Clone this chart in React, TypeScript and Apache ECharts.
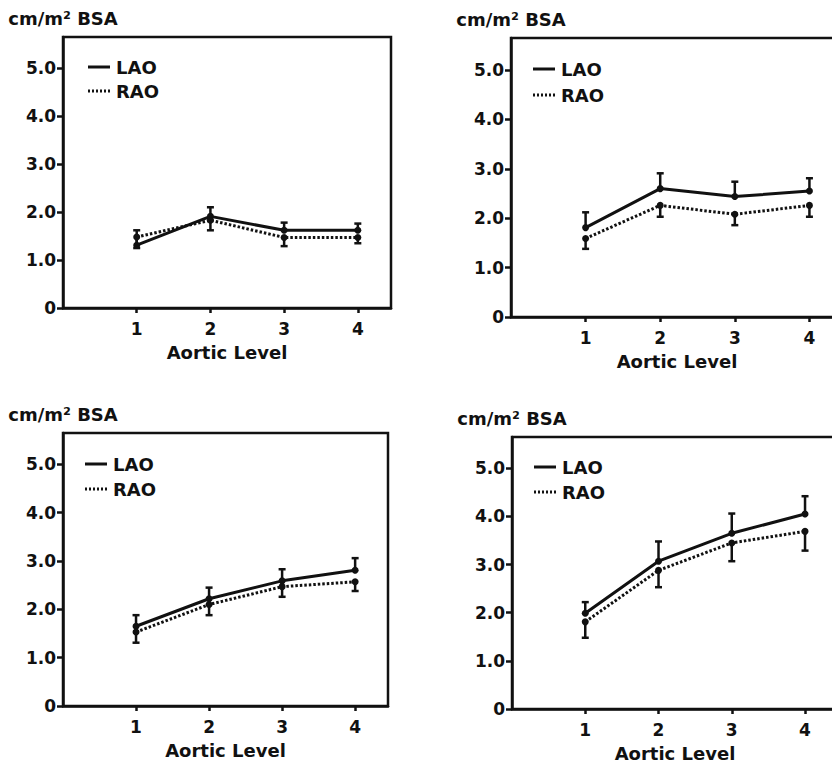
import React, { useEffect, useRef } from "react";
import * as echarts from "echarts";

// ---- data ----
const levels = [1, 2, 3, 4];
const yTicks = [0, 1, 2, 3, 4, 5];
const seriesNames = ["LAO", "RAO"];
const axisTitle = "Aortic Level";
const unitTitle = "cm/m² BSA";

const p1LAO = [1.31, 1.91, 1.62, 1.62];
const p1LAOUpper = [1.62, 2.1, 1.78, 1.76];
const p1RAO = [1.48, 1.83, 1.47, 1.47];
const p1RAOLower = [1.25, 1.62, 1.29, 1.35];

const p2LAO = [1.81, 2.6, 2.44, 2.55];
const p2LAOUpper = [2.12, 2.91, 2.74, 2.81];
const p2RAO = [1.59, 2.26, 2.08, 2.26];
const p2RAOLower = [1.38, 2.03, 1.86, 2.03];

const p3LAO = [1.65, 2.22, 2.59, 2.81];
const p3LAOUpper = [1.88, 2.45, 2.83, 3.06];
const p3RAO = [1.53, 2.1, 2.47, 2.57];
const p3RAOLower = [1.31, 1.88, 2.26, 2.38];

const p4LAO = [1.99, 3.07, 3.65, 4.05];
const p4LAOUpper = [2.22, 3.48, 4.06, 4.42];
const p4RAO = [1.81, 2.88, 3.45, 3.69];
const p4RAOLower = [1.48, 2.53, 3.07, 3.29];

const panels = [
  { lao: p1LAO, laoEnd: p1LAOUpper, rao: p1RAO, raoEnd: p1RAOLower },
  { lao: p2LAO, laoEnd: p2LAOUpper, rao: p2RAO, raoEnd: p2RAOLower },
  { lao: p3LAO, laoEnd: p3LAOUpper, rao: p3RAO, raoEnd: p3RAOLower },
  { lao: p4LAO, laoEnd: p4LAOUpper, rao: p4RAO, raoEnd: p4RAOLower },
];

// ---- layout ----
const grids = [
  { left: 63, top: 37, width: 328, height: 271 },
  { left: 511, top: 38, width: 332, height: 279 },
  { left: 63, top: 433, width: 325, height: 273 },
  { left: 512, top: 437, width: 326, height: 272 },
];
const legendPos = [
  { x: 88, y1: 67, y2: 91 },
  { x: 533, y1: 69, y2: 95 },
  { x: 85, y1: 464, y2: 489 },
  { x: 534, y1: 467, y2: 492 },
];

const INK = "#111";
const FONT = "DejaVu Sans";
const X_MAX = 4.45;
const Y_MAX = 5.65;

function App() {
  const ref = useRef<HTMLDivElement>(null);

  useEffect(() => {
    if (!ref.current) return;
    const chart = echarts.init(ref.current, null, { renderer: "svg" });

    const textStyle = {
      fontFamily: FONT,
      fontWeight: "bold" as const,
      fontSize: 17,
      color: INK,
    };

    const errorRender = (params: any, api: any) => {
      const x = api.value(0);
      const v = api.value(1);
      const e = api.value(2);
      const p0 = api.coord([x, v]);
      const p1 = api.coord([x, e]);
      return {
        type: "group",
        children: [
          {
            type: "line",
            shape: { x1: p0[0], y1: p0[1], x2: p1[0], y2: p1[1] },
            style: { stroke: INK, lineWidth: 2.5 },
          },
          {
            type: "line",
            shape: { x1: p1[0] - 3.5, y1: p1[1], x2: p1[0] + 3.5, y2: p1[1] },
            style: { stroke: INK, lineWidth: 2.5 },
          },
        ],
      };
    };

    const series: any[] = [];
    panels.forEach((p, i) => {
      series.push({
        type: "custom",
        name: seriesNames[0] + " SD " + (i + 1),
        xAxisIndex: i,
        yAxisIndex: i,
        renderItem: errorRender,
        encode: { x: 0, y: [1, 2] },
        data: levels.map((lv, k) => [lv, p.lao[k], p.laoEnd[k]]),
        z: 2,
      });
      series.push({
        type: "custom",
        name: seriesNames[1] + " SD " + (i + 1),
        xAxisIndex: i,
        yAxisIndex: i,
        renderItem: errorRender,
        encode: { x: 0, y: [1, 2] },
        data: levels.map((lv, k) => [lv, p.rao[k], p.raoEnd[k]]),
        z: 2,
      });
      series.push({
        type: "line",
        name: seriesNames[0],
        xAxisIndex: i,
        yAxisIndex: i,
        data: levels.map((lv, k) => [lv, p.lao[k]]),
        symbol: "circle",
        symbolSize: 7,
        itemStyle: { color: INK },
        lineStyle: { color: INK, width: 3 },
        z: 3,
      });
      series.push({
        type: "line",
        name: seriesNames[1],
        xAxisIndex: i,
        yAxisIndex: i,
        data: levels.map((lv, k) => [lv, p.rao[k]]),
        symbol: "circle",
        symbolSize: 7,
        itemStyle: { color: INK },
        lineStyle: { color: INK, width: 3, type: [2.5, 2], cap: "butt" },
        z: 3,
      });
    });

    const graphic: any[] = [];
    legendPos.forEach((lp) => {
      graphic.push({
        type: "line",
        shape: { x1: lp.x, y1: lp.y1, x2: lp.x + 22, y2: lp.y1 },
        style: { stroke: INK, lineWidth: 3 },
      });
      graphic.push({
        type: "text",
        x: lp.x + 28,
        y: lp.y1,
        style: {
          text: seriesNames[0],
          fontFamily: FONT,
          fontWeight: "bold",
          fontSize: 18,
          fill: INK,
          verticalAlign: "middle",
        },
      });
      graphic.push({
        type: "line",
        shape: { x1: lp.x, y1: lp.y2, x2: lp.x + 22, y2: lp.y2 },
        style: { stroke: INK, lineWidth: 3, lineDash: [2, 2] },
      });
      graphic.push({
        type: "text",
        x: lp.x + 28,
        y: lp.y2,
        style: {
          text: seriesNames[1],
          fontFamily: FONT,
          fontWeight: "bold",
          fontSize: 18,
          fill: INK,
          verticalAlign: "middle",
        },
      });
    });

    chart.setOption({
      animation: false,
      backgroundColor: "#fff",
      grid: grids.map((g) => ({
        ...g,
        show: true,
        borderColor: INK,
        borderWidth: 2.5,
        backgroundColor: "transparent",
        containLabel: false,
        outerBoundsMode: "none",
      })),
      xAxis: grids.map((_, i) => ({
        type: "value",
        gridIndex: i,
        min: 0,
        max: X_MAX,
        interval: 1,
        name: axisTitle,
        nameLocation: "middle",
        nameGap: 35,
        nameTextStyle: { ...textStyle, fontSize: 18 },
        axisLine: { show: true, onZero: false, lineStyle: { color: INK, width: 2.5 } },
        axisTick: {
          show: true,
          customValues: levels,
          length: 5,
          inside: false,
          lineStyle: { color: INK, width: 2.5 },
        },
        axisLabel: {
          customValues: levels,
          margin: 12,
          ...textStyle,
          formatter: (v: number) => String(v),
        },
        splitLine: { show: false },
      })),
      yAxis: grids.map((_, i) => ({
        type: "value",
        gridIndex: i,
        min: 0,
        max: Y_MAX,
        interval: 1,
        name: unitTitle,
        nameLocation: "end",
        nameGap: 10,
        nameTextStyle: { ...textStyle, fontSize: 18, align: "center" },
        axisLine: { show: true, onZero: false, lineStyle: { color: INK, width: 2.5 } },
        axisTick: {
          show: true,
          customValues: yTicks,
          length: 6,
          inside: false,
          lineStyle: { color: INK, width: 2.5 },
        },
        axisLabel: {
          customValues: yTicks,
          margin: 7,
          ...textStyle,
          formatter: (v: number) => (v === 0 ? "0" : v.toFixed(1)),
        },
        splitLine: { show: false },
      })),
      series,
      graphic,
    });

    return () => chart.dispose();
  }, []);

  return (
    <div
      ref={ref}
      style={{ position: "absolute", left: 0, top: 0, width: 832, height: 765 }}
    />
  );
}

export default App;
